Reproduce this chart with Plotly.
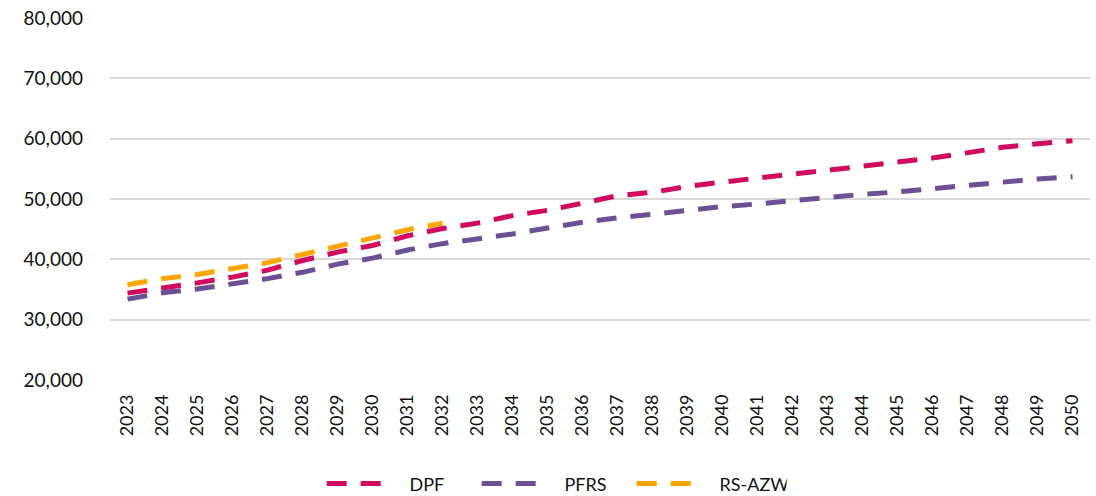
import plotly.graph_objects as go

years = [str(y) for y in range(2023, 2051)]

dpf = [34400, 35200, 36100, 37050, 38200, 39800, 41200, 42300, 43900, 45100,
       46000, 47250, 48130, 49300, 50550, 51100, 52100, 52800, 53370, 54140,
       54750, 55500, 56120, 56780, 57620, 58560, 59170, 59650]
pfrs = [33400, 34450, 35100, 35900, 36800, 37850, 39200, 40200, 41550, 42600,
        43300, 44200, 45200, 46150, 46860, 47500, 48200, 48740, 49180, 49740,
        50170, 50780, 51170, 51730, 52400, 52830, 53330, 53700]
rs_azw = [35800, 36800, 37500, 38450, 39450, 40800, 42200, 43450, 44900, 46000]

pad = '\u00a0' * 3

fig = go.Figure()

dash_style = '20px,14px'
fig.add_trace(go.Scatter(x=years, y=dpf, mode='lines', name=pad + 'DPF',
                         line=dict(color='#D1095F', width=5, dash=dash_style)))
fig.add_trace(go.Scatter(x=years, y=pfrs, mode='lines', name=pad + 'PFRS',
                         line=dict(color='#6C4F94', width=5, dash=dash_style)))
fig.add_trace(go.Scatter(x=years[:len(rs_azw)], y=rs_azw, mode='lines', name=pad + 'RS-AZW',
                         line=dict(color='#FFA500', width=5, dash=dash_style)))

fig.update_layout(
    width=1096, height=496,
    margin=dict(l=110, r=6, t=18, b=116, autoexpand=False),
    plot_bgcolor='white', paper_bgcolor='white',
    font=dict(family='Lato, Noto Sans, sans-serif', size=18, color='#111'),
    showlegend=True,
    legend=dict(orientation='h', x=0.216, xanchor='left', y=-0.287, yanchor='middle',
                font=dict(size=18), itemwidth=64, entrywidth=76, entrywidthmode='pixels'),
    xaxis=dict(type='category', range=[-0.5, len(years) - 0.5], tickangle=-90,
               showgrid=False, ticks='', showline=False, ticklabelstandoff=10,
               tickfont=dict(size=18)),
    yaxis=dict(range=[20000, 80000], dtick=10000, tickformat=',',
               showgrid=True, gridcolor='#D9D9D9', gridwidth=2,
               zeroline=False, showline=False, ticks='', ticklabelstandoff=26,
               tickfont=dict(size=19)),
)

# remove the default body margin so the figure fills the window
fig.write_html("out.html", config={'displayModeBar': False},
               post_script="document.body.style.margin = '0';")
